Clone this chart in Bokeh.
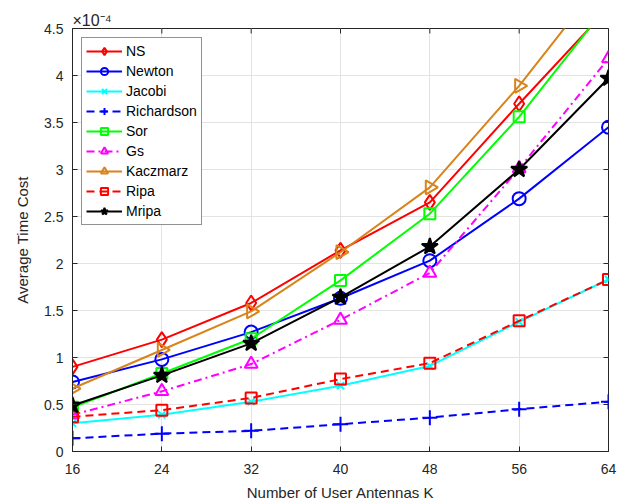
import numpy as np
from bokeh.plotting import figure
from bokeh.models import Range1d, FixedTicker, Legend, LegendItem
from bokeh.embed import file_html
from bokeh.resources import INLINE

K = [16, 24, 32, 40, 48, 56, 64]
ns = [0.90, 1.19, 1.58, 2.14, 2.65, 3.70, 4.72]
newton = [0.74, 0.98, 1.27, 1.63, 2.03, 2.69, 3.45]
jacobi = [0.30, 0.39, 0.53, 0.70, 0.91, 1.38, 1.83]
richardson = [0.14, 0.19, 0.22, 0.29, 0.36, 0.45, 0.53]
sor = [0.47, 0.83, 1.20, 1.82, 2.53, 3.56, 4.76]
gs = [0.39, 0.64, 0.93, 1.40, 1.90, 3.01, 4.18]
kaczmarz = [0.67, 1.08, 1.49, 2.12, 2.81, 3.89, 5.10]
ripa = [0.37, 0.44, 0.57, 0.77, 0.94, 1.39, 1.83]
mripa = [0.49, 0.81, 1.15, 1.64, 2.18, 3.00, 3.97]
yticks = [0, 0.5, 1, 1.5, 2, 2.5, 3, 3.5, 4, 4.5]
ytick_labels = ["0", "0.5", "1", "1.5", "2", "2.5", "3", "3.5", "4", "4.5"]

FONT = "Liberation Sans"
TXT = "#262626"

p = figure(width=632, height=503, output_backend="svg", toolbar_location=None,
           x_range=Range1d(16, 64), y_range=Range1d(0, 4.5),
           min_border_left=72, min_border_right=24, min_border_top=28,
           min_border_bottom=52)
p.outline_line_color = "#262626"
p.outline_line_width = 1

p.title.text = "×10⁻⁴"
p.title.text_font = FONT
p.title.text_font_size = "16px"
p.title.text_font_style = "normal"
p.title.text_color = TXT
p.title.align = "left"
p.title.offset = 0
p.title.standoff = 0

for ax in [p.xaxis[0], p.yaxis[0]]:
    ax.major_tick_in = 5
    ax.major_tick_out = 0
    ax.minor_tick_line_color = None
    ax.axis_line_color = "#262626"
    ax.major_tick_line_color = "#262626"
    ax.major_label_text_font = FONT
    ax.major_label_text_font_size = "14px"
    ax.major_label_text_color = TXT
    ax.axis_label_text_font = FONT
    ax.axis_label_text_font_size = "15px"
    ax.axis_label_text_font_style = "normal"
    ax.axis_label_text_color = TXT

p.xaxis.ticker = FixedTicker(ticks=K)
p.yaxis.ticker = FixedTicker(ticks=yticks)
p.yaxis.major_label_overrides = {t: l for t, l in zip(yticks, ytick_labels)}
p.xaxis.axis_label = "Number of User Antennas K"
p.yaxis.axis_label = "Average Time Cost"
p.xaxis.major_label_standoff = 12
p.xaxis.axis_label_standoff = 7
p.yaxis.major_label_standoff = 9
p.yaxis.axis_label_standoff = 10

p.xgrid.ticker = FixedTicker(ticks=K)
p.ygrid.ticker = FixedTicker(ticks=yticks)
p.grid.grid_line_color = "#E3E3E3"
p.grid.grid_line_width = 1

# inward tick marks on the right and top edges of the box
p.ray(x=[K[-1]] * len(yticks), y=yticks, length=5, length_units="screen",
      angle=np.pi, line_color="#262626", line_width=1)
p.ray(x=K, y=[yticks[-1]] * len(K), length=5, length_units="screen",
      angle=-np.pi / 2, line_color="#262626", line_width=1)

series = [
    ("NS", ns, "#FF0000", "solid", "diamond", 15, 0, False),
    ("Newton", newton, "#0000FF", "solid", "circle", 13, 0, False),
    ("Jacobi", jacobi, "#00FFFF", "solid", "x", 10, 0, False),
    ("Richardson", richardson, "#0000FF", "8 5", "cross", 15, 0, False),
    ("Sor", sor, "#00FF00", "solid", "square", 11, 0, False),
    ("Gs", gs, "#FF00FF", "8 4 2 4", "triangle", 13, 0, False),
    ("Kaczmarz", kaczmarz, "#D9841A", "solid", "triangle", 14, -np.pi / 2, False),
    ("Ripa", ripa, "#FF0000", "8 5", "square", 11, 0, False),
    ("Mripa", mripa, "#000000", "solid", "star", 17, 0, True),
]

items = []
for name, ys, col, dash, mk, sz, ang, filled in series:
    l = p.line(K, ys, line_color=col, line_width=2, line_dash=dash)
    s = p.scatter(K, ys, marker=mk, size=sz, angle=ang, line_color=col, line_width=2,
                  fill_color=col if filled else None)
    items.append(LegendItem(label=name, renderers=[l, s]))

leg = Legend(items=items, location="top_left")
leg.label_text_font = FONT
leg.label_text_font_size = "14px"
leg.label_text_color = "#000000"
leg.glyph_width = 36
leg.glyph_height = 18
leg.label_height = 18
leg.spacing = 2
leg.padding = 4
leg.margin = 9
leg.label_standoff = 4
leg.border_line_color = "#262626"
leg.border_line_width = 1
leg.background_fill_alpha = 1
p.add_layout(leg)

open("out.html", "w").write(file_html(p, INLINE))
